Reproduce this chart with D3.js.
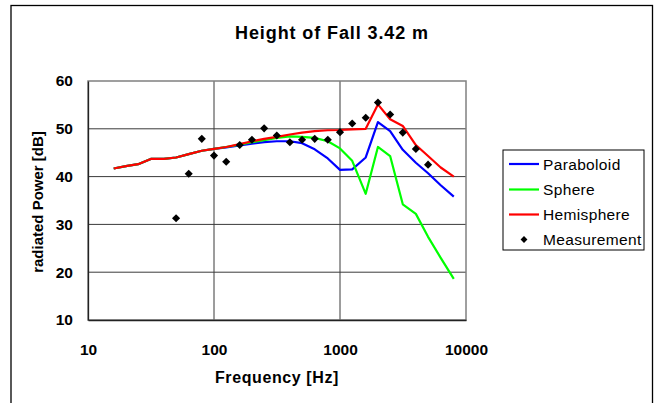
<!DOCTYPE html>
<html>
<head>
<meta charset="utf-8">
<script src="https://cdn.jsdelivr.net/npm/d3@7/dist/d3.min.js"></script>
<style>
  html, body { margin: 0; padding: 0; background: #fff; }
  svg { display: block; font-family: "Liberation Sans", Arial, sans-serif; }
</style>
</head>
<body>
<svg id="chart" width="657" height="403"></svg>
<script>
// Third-octave band centre frequencies [Hz]
const freqs = [16, 20, 25, 31.5, 40, 50, 63, 80, 100, 125, 160, 200, 250, 315, 400,
  500, 630, 800, 1000, 1250, 1600, 2000, 2500, 3150, 4000, 5000, 6300, 8000];

// Model predictions, radiated power [dB]
const paraboloid = [41.7, 42.2, 42.6, 43.7, 43.7, 44.0, 44.7, 45.4, 45.8, 46.1, 46.5, 46.9, 47.2, 47.4,
  47.4, 47.0, 45.7, 43.8, 41.4, 41.5, 44.0, 51.4, 49.5, 45.6, 42.9, 40.7, 38.2, 35.8];
const sphere = [41.7, 42.2, 42.6, 43.7, 43.7, 44.0, 44.7, 45.4, 45.8, 46.2, 46.7, 47.2, 47.6, 48.1,
  48.4, 48.3, 48.1, 47.4, 45.9, 43.3, 36.4, 46.2, 44.3, 34.2, 32.2, 27.4, 23.0, 18.6];
const hemisphere = [41.7, 42.2, 42.6, 43.7, 43.7, 44.0, 44.7, 45.4, 45.8, 46.2, 46.8, 47.4, 47.9, 48.3,
  48.8, 49.2, 49.5, 49.7, 49.75, 49.9, 50.0, 55.1, 52.0, 50.6, 46.6, 44.3, 41.9, 40.0];

// Measured values
const measFreqs = [50, 63, 80, 100, 125, 160, 200, 250, 315, 400, 500, 630, 800, 1000,
  1250, 1600, 2000, 2500, 3150, 4000, 5000];
const measured = [31.3, 40.6, 47.9, 44.4, 43.1, 46.6, 47.7, 50.1, 48.6, 47.2, 47.7, 47.9, 47.7, 49.3,
  51.1, 52.3, 55.5, 53.0, 49.2, 45.8, 42.5];

const xTicks = [10, 100, 1000, 10000];
const yTicks = [10, 20, 30, 40, 50, 60];

const seriesNames = ["Paraboloid", "Sphere", "Hemisphere"];
const seriesValues = [paraboloid, sphere, hemisphere];
const seriesColors = ["#0000ff", "#00ff00", "#ff0000"];

const svg = d3.select("#chart");

// Outer chart frame
svg.append("rect")
  .attr("x", 11).attr("y", 5.5).attr("width", 641.5).attr("height", 410)
  .attr("fill", "#fff").attr("stroke", "#000").attr("stroke-width", 1.3);

const plot = { left: 88, top: 81, right: 466, bottom: 320 };

const x = d3.scaleLog().domain([10, 10000]).range([plot.left, plot.right]);
const y = d3.scaleLinear().domain([10, 60]).range([plot.bottom, plot.top]);

// Gridlines
const grid = svg.append("g");
grid.selectAll("line.h")
  .data(yTicks.filter(v => v > 10 && v < 60))
  .join("line")
  .attr("x1", plot.left).attr("x2", plot.right)
  .attr("y1", d => y(d)).attr("y2", d => y(d))
  .attr("stroke", "#3a3a3a").attr("stroke-width", 1);
grid.selectAll("line.v")
  .data(xTicks.filter(v => v > 10 && v < 10000))
  .join("line")
  .attr("x1", d => x(d)).attr("x2", d => x(d))
  .attr("y1", plot.top).attr("y2", plot.bottom)
  .attr("stroke", "#3a3a3a").attr("stroke-width", 1);

// Plot area border
svg.append("rect")
  .attr("x", plot.left).attr("y", plot.top)
  .attr("width", plot.right - plot.left).attr("height", plot.bottom - plot.top)
  .attr("fill", "none").attr("stroke", "#808080").attr("stroke-width", 1.5);

// Axes
const xAxis = svg.append("g")
  .attr("transform", `translate(0,${plot.bottom})`)
  .call(d3.axisBottom(x).tickValues(xTicks).tickFormat(d3.format("d")).tickSize(0).tickPadding(24));
const yAxis = svg.append("g")
  .attr("transform", `translate(${plot.left},0)`)
  .call(d3.axisLeft(y).tickValues(yTicks).tickFormat(d3.format("d")).tickSize(0).tickPadding(15));
[xAxis, yAxis].forEach(g => {
  g.select(".domain").attr("stroke", "#222").attr("stroke-width", 1.3);
  g.selectAll("text")
    .attr("font-family", "Liberation Sans, Arial, sans-serif")
    .attr("font-size", 15.5).attr("font-weight", "bold").attr("fill", "#000");
});

// Model curves
const line = d3.line().x((d, i) => x(freqs[i])).y(d => y(d));
seriesValues.forEach((vals, k) => {
  svg.append("path")
    .datum(vals)
    .attr("d", line)
    .attr("fill", "none")
    .attr("stroke", seriesColors[k])
    .attr("stroke-width", 2.2)
    .attr("stroke-linejoin", "round");
});

// Measurement markers (diamonds)
const diamond = d3.symbol().type(d3.symbolDiamond2).size(42);
svg.append("g").selectAll("path")
  .data(measured)
  .join("path")
  .attr("transform", (d, i) => `translate(${x(measFreqs[i])},${y(d)})`)
  .attr("d", diamond)
  .attr("fill", "#000");

// Titles
svg.append("text")
  .attr("x", 332).attr("y", 38.7)
  .attr("text-anchor", "middle")
  .attr("font-size", 18).attr("font-weight", "bold")
  .attr("letter-spacing", 0.9)
  .text("Height of Fall 3.42 m");
svg.append("text")
  .attr("x", (plot.left + plot.right) / 2).attr("y", 383)
  .attr("text-anchor", "middle")
  .attr("font-size", 16).attr("font-weight", "bold")
  .attr("letter-spacing", 0.6)
  .text("Frequency [Hz]");
svg.append("text")
  .attr("transform", "translate(43,202) rotate(-90)")
  .attr("text-anchor", "middle")
  .attr("font-size", 15).attr("font-weight", "bold")
  .text("radiated Power [dB]");

// Legend
const legend = svg.append("g");
legend.append("rect")
  .attr("x", 503).attr("y", 150).attr("width", 141).attr("height", 100)
  .attr("fill", "#fff").attr("stroke", "#000").attr("stroke-width", 1);
const rowY = [164, 189.5, 214.5, 239.5];
seriesNames.forEach((name, k) => {
  legend.append("line")
    .attr("x1", 509).attr("x2", 539)
    .attr("y1", rowY[k]).attr("y2", rowY[k])
    .attr("stroke", seriesColors[k]).attr("stroke-width", 2.2);
  legend.append("text")
    .attr("x", 543).attr("y", rowY[k]).attr("dy", "0.36em")
    .attr("font-size", 15.5).attr("letter-spacing", 0.35).text(name);
});
legend.append("path")
  .attr("transform", `translate(524,${rowY[3]})`)
  .attr("d", d3.symbol().type(d3.symbolDiamond2).size(30))
  .attr("fill", "#000");
legend.append("text")
  .attr("x", 543).attr("y", rowY[3]).attr("dy", "0.36em")
  .attr("font-size", 15.5).attr("letter-spacing", 0.35).text("Measurement");
</script>
</body>
</html>
